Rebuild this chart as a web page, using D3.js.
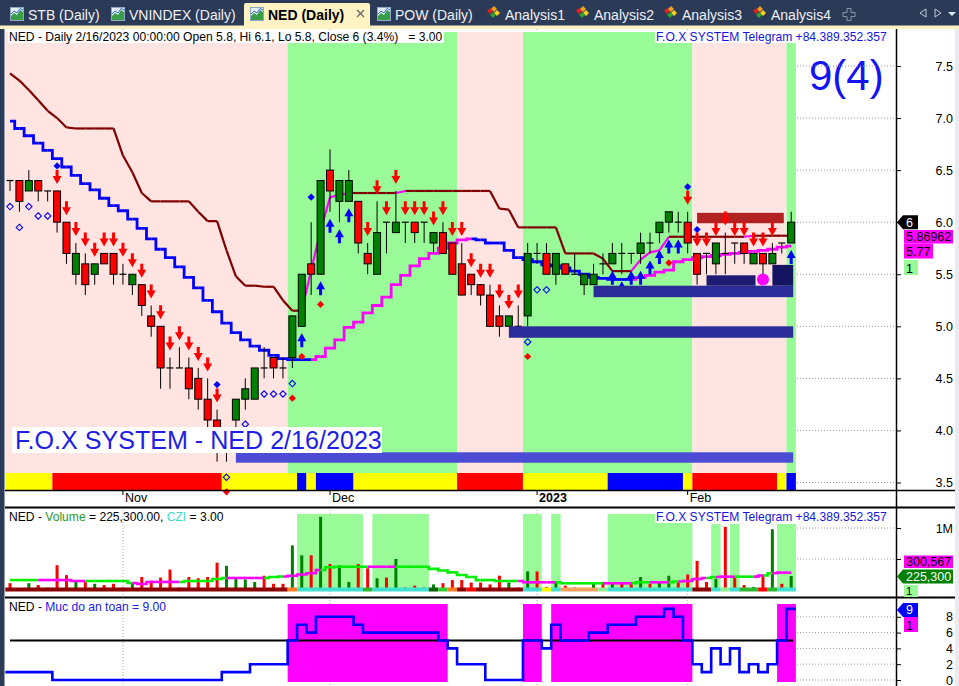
<!DOCTYPE html>
<html>
<head>
<meta charset="utf-8">
<script src="https://cdn.jsdelivr.net/npm/d3@7/dist/d3.min.js"></script>
<style>
  body { margin: 0; background: #fff; }
  svg { display: block; font-family: "Liberation Sans", Arial, sans-serif; }
  text { white-space: pre; }
</style>
</head>
<body>
<svg id="chart"></svg>
<script>
// ---------- data ----------
const tradeDates = [
  "2022-10-14","2022-10-17","2022-10-18","2022-10-19","2022-10-20","2022-10-21","2022-10-24","2022-10-25","2022-10-26","2022-10-27","2022-10-28","2022-10-31",
  "2022-11-01","2022-11-02","2022-11-03","2022-11-04","2022-11-07","2022-11-08","2022-11-09","2022-11-10","2022-11-11","2022-11-14","2022-11-15",
  "2022-11-16","2022-11-17","2022-11-18","2022-11-21","2022-11-22","2022-11-23","2022-11-24","2022-11-25","2022-11-28","2022-11-29","2022-11-30",
  "2022-12-01","2022-12-02","2022-12-05","2022-12-06","2022-12-07","2022-12-08","2022-12-09","2022-12-12","2022-12-13","2022-12-14","2022-12-15",
  "2022-12-16","2022-12-19","2022-12-20","2022-12-21","2022-12-22","2022-12-23","2022-12-26","2022-12-27","2022-12-28","2022-12-29","2022-12-30",
  "2023-01-03","2023-01-04","2023-01-05","2023-01-06","2023-01-09","2023-01-10","2023-01-11","2023-01-12","2023-01-13","2023-01-16","2023-01-17",
  "2023-01-18","2023-01-19","2023-01-27","2023-01-30","2023-01-31",
  "2023-02-01","2023-02-02","2023-02-03","2023-02-06","2023-02-07","2023-02-08","2023-02-09","2023-02-10","2023-02-13","2023-02-14","2023-02-15","2023-02-16"
];
const monthTicks = ["2022-11-01", "2022-12-01", "2023-01-03", "2023-02-01"];
const monthLabels = ["Nov", "Dec", "2023", "Feb"];

const open = [6.4,6.4,6.3,6.4,6.3,6.3,6.0,5.5,5.6,5.5, 5.7,5.7,5.5,5.4,5.4,5.1,5.0,4.6,4.6,4.6,
  4.5,4.3,4.1,3.9,4.1,4.3,4.3,4.6,4.7,4.6, 4.7,5.0,5.6,5.5,6.5,6.2,6.2,6.2,5.7,5.5,
  6.0,5.9,6.0,6.0,6.0,5.8,5.9,5.8,5.6,5.5, 5.4,5.3,5.1,5.0,5.0,5.1,5.7,5.7,5.5,5.6,
  5.5,5.4,5.4,5.6,5.6,5.7,5.7,5.7,5.8,5.9, 6.0,6.0,6.0,5.7,5.7,5.6,5.7,5.8,5.8,5.6, 5.7,5.6,5.8,5.8];
const high = [6.4,6.4,6.5,6.4,6.3,6.3,6.0,5.8,5.7,5.6, 5.7,5.7,5.6,5.5,5.4,5.2,5.0,4.7,4.8,4.7,
  4.6,4.5,4.2,4.0,4.3,4.5,4.6,4.8,4.7,4.7, 5.1,5.5,6.0,6.4,6.7,6.4,6.5,6.2,5.8,6.2,
  6.0,6.3,6.0,6.0,6.0,5.9,6.0,5.8,5.8,5.5, 5.4,5.4,5.2,5.1,5.2,5.8,5.8,5.8,5.7,5.6,
  5.7,5.5,5.6,5.7,5.8,5.8,5.7,5.9,5.9,6.0, 6.1,6.1,6.1,5.7,5.7,5.8,5.9,5.8,5.8,5.7, 5.7,5.8,5.8,6.1];
const low = [6.3,6.1,6.3,6.2,6.2,5.9,5.6,5.4,5.3,5.4, 5.6,5.4,5.4,5.3,5.1,4.9,4.4,4.4,4.6,4.3,
  4.2,4.0,3.7,3.7,4.0,4.2,4.3,4.5,4.5,4.5, 4.6,5.0,5.3,5.5,6.1,6.0,6.2,5.7,5.5,5.5,
  5.7,5.9,5.8,5.8,5.8,5.7,5.7,5.5,5.3,5.3, 5.2,5.0,4.9,5.0,5.0,5.0,5.6,5.5,5.4,5.5,
  5.5,5.3,5.4,5.5,5.6,5.5,5.6,5.6,5.7,5.8, 5.9,5.9,5.7,5.4,5.5,5.5,5.5,5.6,5.6,5.6, 5.4,5.6,5.7,5.8];
const close = [6.4,6.2,6.4,6.3,6.3,6.0,5.7,5.7,5.4,5.6, 5.6,5.5,5.5,5.5,5.2,5.0,4.6,4.6,4.6,4.4,
  4.3,4.1,3.9,4.0,4.3,4.4,4.6,4.6,4.6,4.6, 5.1,5.5,5.5,6.4,6.3,6.4,6.4,5.8,5.6,5.9,
  6.0,6.0,6.0,5.9,6.0,5.9,5.7,5.5,5.3,5.4, 5.3,5.0,5.0,5.1,5.0,5.7,5.7,5.5,5.7,5.5,
  5.5,5.5,5.5,5.6,5.7,5.7,5.7,5.8,5.8,6.0, 6.1,6.0,5.8,5.5,5.7,5.8,5.7,5.8,5.7,5.7, 5.6,5.7,5.8,6.0];

// volume in thousands of shares, and its average
const volume = [110,20,110,80,40,400,240,130,130,100, 80,100,40,110,210,150,200,330,40,210,
  190,210,440,390,190,170,130,230,100,100, 720,560,560,1180,420,400,130,420,350,190,
  200,500,40,70,40,90,110,160,160,120, 120,90,230,120,40,300,300,50,120,70,
  40,30,100,130,100,120,130,210,100,130, 230,120,250,470,130,180,1020,210,80,50, 250,980,100,225.3];
const volumeAvg = [160,160,160,160,160,160,160,145,145,145, 145,145,145,113,97,130,130,130,130,145,
  145,145,177,194,194,194,194,194,210,218, 230,250,270,323,366,375,375,375,375,375,
  375,375,375,375,375,340,315,285,242,210, 160,161,145,145,145,124,124,124,124,108,
  108,108,108,108,108,108,108,124,124,124, 124,137,145,177,194,210,215,215,215,215, 234,270,280,280];
const avgHighlight = [[4,8],[14,18],[24,27],[30,33],[39,41],[55,58],[64,66],[69,70],[72,74],[76,77],[80,80],[82,83]];

// trailing stop lines
const upperStop = [7.43,7.36,7.27,7.17,7.07,7.00,6.91,6.90,6.90,6.90, 6.90,6.90,6.64,6.48,6.28,6.20,6.20,6.20,6.20,6.20,
  6.10,6.01,6.01,5.73,5.48,5.39,5.39,5.38,5.38,5.25, 5.15,5.15,5.54,5.92,6.24,6.26,6.28,6.28,6.28,6.28,
  6.28,6.28,6.30,6.30,6.30,6.30,6.30,6.30,6.30,6.30, 6.30,6.30,6.13,6.12,5.95,5.95,5.95,5.95,5.95,5.70,
  5.70,5.70,5.70,5.65,5.53,5.53,5.53,5.64,5.71,5.73, 5.86,5.86,5.86,5.86,5.86,5.86,5.86,5.86,5.86,5.87, 5.87,5.87,5.87,5.87];
const lowerStop = [6.97,6.90,6.83,6.76,6.69,6.61,6.53,6.45,6.37,6.31, 6.23,6.16,6.11,6.03,5.94,5.84,5.74,5.66,5.57,5.47,
  5.37,5.25,5.14,5.03,4.94,4.87,4.81,4.77,4.72,4.69, 4.68,4.68,4.68,4.71,4.79,4.87,4.99,5.04,5.13,5.20,
  5.28,5.40,5.49,5.58,5.65,5.70,5.75,5.80,5.83,5.84, 5.83,5.80,5.80,5.73,5.66,5.64,5.62,5.59,5.58,5.56,
  5.53,5.50,5.47,5.46,5.45,5.45,5.45,5.47,5.49,5.52, 5.54,5.62,5.64,5.66,5.67,5.68,5.69,5.70,5.71,5.72, 5.73,5.74,5.76,5.77];

// "Muc do an toan" (safety level)
const safety = [1,1,1,1,1,0,0,0,0,0, 0,0,0,0,0,0,0,0,0,0, 0,0,0,1,1,1,2,2,2,2,
  5,7,6,8,8,8,8,7,6,6, 6,6,6,6,6,6,5,4,2,2, 2,0,0,0,0,5,5,4,7,5,
  5,5,6,6,7,7,7,8,8,8, 9,8,5,2,1,4,2,4,1,2, 1,2,5,9];

// state runs [firstBar, lastBar, state]
const trendRuns = [[0,29,"bear"],[30,47,"bull"],[48,54,"bear"],[55,72,"bull"],[73,82,"bear"],[83,83,"bull"]];
const signalRuns = [[0,4,"wait"],[5,22,"sell"],[23,30,"wait"],[31,31,"buy"],[32,32,"wait"],[33,36,"buy"],[37,47,"wait"],
  [48,54,"sell"],[55,63,"wait"],[64,71,"buy"],[72,72,"wait"],[73,81,"sell"],[82,82,"wait"],[83,83,"buy"]];
const flowRuns = [[0,29,"dr"],[30,30,"or"],[31,37,"tq"],[38,38,"gr"],[39,44,"tq"],[45,45,"dg"],[46,46,"lg"],[47,47,"or"],
  [48,48,"dr"],[49,49,"rd"],[50,54,"dr"],[55,56,"tq"],[57,57,"yl"],[58,58,"tq"],[59,62,"sd"],[63,63,"pg"],[64,72,"tq"],
  [73,74,"dr"],[75,75,"tq"],[76,76,"pg"],[77,77,"tq"],[78,79,"gr"],[80,80,"rd"],[81,81,"gr"],[82,83,"tq"]];
const volFlagTall = [[31,37],[39,44],[55,56],[58,58],[64,72]];
const volFlagShort = [[75,75],[77,77],[82,83]];
const safeRuns = [[30,46],[55,56],[58,72],[82,83]];

// signals
const sellBars = [5,6,7,8,9,10,11,12,13,14,15,16,17,18,19,20,21,22,
  38,39,40,41,42,43,44,45,46,47,48,49,50,51,52,53,54, 72,73,74,75,76,77,78,79,80,81];
const buyBars = [31,33,34,35,36,64,65,66,67,68,69,70,71,83];
const blueDots = [[5,6.54],[22,4.44],[32,6.24],[72,6.34],[73,5.93]];
const redDots = [[23,3.41],[30,4.31],[31,4.71],[33,5.21],[55,4.71],[70,5.61]];
const hollowDots = [[0,6.15],[1,5.95],[2,6.15],[3,6.06],[4,6.06],[23,3.55],[25,4.06],[27,4.35],[28,4.35],
  [29,4.35],[30,4.45],[55,4.85],[56,5.35],[57,5.35]];
const zones = [
  {kind: "base", from: 24, to: 83, lo: 3.69, hi: 3.79},
  {kind: "sup", from: 53, to: 83, lo: 4.89, hi: 5.00},
  {kind: "sup", from: 62, to: 83, lo: 5.28, hi: 5.39},
  {kind: "box", from: 74, to: 79, lo: 5.39, hi: 5.49},
  {kind: "box2", from: 81, to: 83, lo: 5.39, hi: 5.59},
  {kind: "res", from: 73, to: 82, lo: 5.99, hi: 6.09}
];
const pivotBar = 80, pivotPrice = 5.45;

const priceTicks = [3.5, 4, 4.5, 5, 5.5, 6, 6.5, 7, 7.5];
const volTicks = [500, 1000];
const safeTicks = [0, 2, 4, 6, 8];

const tabLabels = ["STB (Daily)", "VNINDEX (Daily)", "NED (Daily)", "POW (Daily)", "Analysis1", "Analysis2", "Analysis3", "Analysis4"];
const tabKinds = ["chart", "chart", "chart", "chart", "analysis", "analysis", "analysis", "analysis"];
const tabX = [10, 111, 250, 377, 487, 576, 664, 753];
const activeTab = 2;

// ---------- colours ----------
const trendColor = {bear: "#ffe4e1", bull: "#98fb98"};
const signalColor = {wait: "#ffff00", sell: "#ff0000", buy: "#0000ff"};
const flowColor = {dr: "#8b0000", or: "#ff7f27", tq: "#40e0d0", gr: "#2eb82e", dg: "#006400", lg: "#32cd32",
  rd: "#ff0000", yl: "#ffff00", sd: "#f4a460", pg: "#90ee90"};
const zoneColor = {base: "#4b4bd6", sup: "#2b2b99", box: "#1c1c72", box2: "#141463", res: "#b22222"};

// ---------- scales ----------
const n = tradeDates.length;
const x = d3.scaleBand().domain(tradeDates).range([5.3, 795.9]).padding(0);
const bw = x.bandwidth();
const xl = i => x(tradeDates[i]);
const xc = i => x(tradeDates[i]) + bw / 2;
const y = d3.scaleLinear().domain([3.5, 7.5]).range([482.5, 66]);
const yVol = d3.scaleLinear().domain([0, 1000]).range([590, 528]);
const ySafe = d3.scaleLinear().domain([0, 8]).range([680, 616.8]);

const svg = d3.select("#chart").attr("width", 959).attr("height", 686);
svg.append("rect").attr("width", 959).attr("height", 686).attr("fill", "#fff");

// ---------- tab strip ----------
const tabBar = svg.append("g");
tabBar.append("rect").attr("width", 959).attr("height", 29).attr("fill", "#2b3a57");
tabBar.append("rect").attr("y", 25.5).attr("width", 959).attr("height", 3.5).attr("fill", "#fff3c4");
tabBar.append("path").attr("d", "M244,29 V5 Q244,3 246,3 H368 Q370,3 370,5 V29 Z").attr("fill", "#fff3c4");
svg.append("rect").attr("y", 29).attr("width", 4.5).attr("height", 657).attr("fill", "#2b3a57");
svg.append("rect").attr("x", 955).attr("y", 29).attr("width", 4).attr("height", 657).attr("fill", "#e9ebef");

tabLabels.forEach((label, i) => {
  const x0 = tabX[i];
  const g = tabBar.append("g");
  if (tabKinds[i] === "chart") {
    g.append("rect").attr("x", x0 + 0.5).attr("y", 7.5).attr("width", 13).attr("height", 13)
      .attr("fill", "#e4eefa").attr("stroke", "#8fa8c8");
    g.append("path").attr("d", `M${x0 + 1},20 V16 L${x0 + 4},13 L${x0 + 7},15 L${x0 + 10},10 L${x0 + 13},12 V20 Z`)
      .attr("fill", "#3a9e48");
    g.append("path").attr("d", `M${x0 + 1},14 L${x0 + 4},11 L${x0 + 7},13 L${x0 + 10},8.5 L${x0 + 13},10`)
      .attr("fill", "none").attr("stroke", "#2f6fd0").attr("stroke-width", 1);
  } else {
    [["#e02020", 3, 11], ["#f0a020", 7, 9], ["#f5d020", 10, 13], ["#30a030", 6, 15]].forEach(([c, dx, dy]) => {
      g.append("path").attr("d", `M${x0 + dx},${dy - 3} l3,3 l-3,3 l-3,-3 Z`).attr("fill", c);
    });
  }
  g.append("text").attr("x", x0 + 18).attr("y", 19.5).attr("font-size", 14)
    .attr("font-weight", i === activeTab ? "bold" : "normal")
    .attr("fill", i === activeTab ? "#000" : "#eef1f6").text(label);
});
tabBar.append("path").attr("d", "M357,10 L364,17 M364,10 L357,17").attr("stroke", "#666").attr("stroke-width", 1.3);
tabBar.append("path").attr("d", "M847,8.5 h4 v4 h4 v4 h-4 v4 h-4 v-4 h-4 v-4 h4 Z").attr("fill", "none")
  .attr("stroke", "#8b95a8").attr("stroke-width", 1);
tabBar.append("path").attr("d", "M926,9 L920,13 L926,17 Z").attr("fill", "none").attr("stroke", "#c8cdd8");
tabBar.append("path").attr("d", "M935,9 L941,13 L935,17 Z").attr("fill", "none").attr("stroke", "#c8cdd8");
tabBar.append("path").attr("d", "M948,12 L956,12 L952,16 Z").attr("fill", "#e2e6ee");

// ---------- month grid ----------
const grid = svg.append("g");
[[29, 490], [507, 597], [597, 686]].forEach(([a, b]) => {
  monthTicks.forEach(d => {
    grid.append("line").attr("x1", x(d) + bw / 2).attr("x2", x(d) + bw / 2).attr("y1", a).attr("y2", b)
      .attr("stroke", "#aaa").attr("stroke-dasharray", "1,2");
  });
});

// ---------- main panel ----------
const gMain = svg.append("g");
const runRect = (g, runs, y0, h, colorOf) => {
  g.selectAll(null).data(runs).join("rect")
    .attr("x", d => xl(d[0])).attr("width", d => xl(d[1]) + bw - xl(d[0]))
    .attr("y", y0).attr("height", h).attr("fill", colorOf);
};
runRect(gMain, trendRuns, 32, 441, d => trendColor[d[2]]);
runRect(gMain, signalRuns, 473, 17, d => signalColor[d[2]]);

// right-side dotted grid
const hGrid = (vals, sc) => vals.forEach(v => {
  svg.append("line").attr("x1", 797).attr("x2", 896).attr("y1", sc(v)).attr("y2", sc(v))
    .attr("stroke", "#999").attr("stroke-dasharray", "1,2");
});
hGrid(priceTicks, y);

const zoneRect = (g, list) => g.selectAll(null).data(list).join("rect")
  .attr("x", d => xc(d.from)).attr("width", d => xc(d.to) + 2 - xc(d.from))
  .attr("y", d => y(d.hi)).attr("height", d => y(d.lo) - y(d.hi)).attr("fill", d => zoneColor[d.kind]);
zoneRect(gMain, zones.filter(z => z.kind === "res"));

// stop lines, coloured by direction
function stopLine(g, vals, sc, base, rise, curve, width) {
  const seg = d3.line().x(j => xc(j)).y(j => sc(vals[j])).curve(curve);
  for (let i = 1; i < vals.length; i++) {
    g.append("path").attr("d", seg([i - 1, i])).attr("fill", "none")
      .attr("stroke", vals[i] > vals[i - 1] ? rise : base).attr("stroke-width", width);
  }
}
stopLine(gMain, upperStop, y, "#800000", "#ff00ff", d3.curveLinear, 2.2);
stopLine(gMain, lowerStop, y, "#0000ff", "#ff00ff", d3.curveStep, 2.8);

// candles
const cg = gMain.selectAll("g.candle").data(d3.range(n)).join("g").attr("class", "candle");
cg.append("line").attr("x1", xc).attr("x2", xc).attr("y1", i => y(high[i])).attr("y2", i => y(low[i]))
  .attr("stroke", "#000").attr("stroke-width", 1);
cg.filter(i => open[i] !== close[i]).append("rect")
  .attr("x", i => xc(i) - 3.5).attr("width", 7)
  .attr("y", i => y(Math.max(open[i], close[i])))
  .attr("height", i => Math.abs(y(open[i]) - y(close[i])))
  .attr("fill", i => close[i] > open[i] ? "#008000" : "#ff0000").attr("stroke", "#000").attr("stroke-width", 1);
cg.filter(i => open[i] === close[i]).append("line")
  .attr("x1", i => xc(i) - 3.5).attr("x2", i => xc(i) + 3.5)
  .attr("y1", i => y(open[i])).attr("y2", i => y(open[i])).attr("stroke", "#000").attr("stroke-width", 1.2);

// arrows
const downArrow = (cx, t) => `M${cx - 1.5},${t - 14} h3 v6 h3 L${cx},${t} L${cx - 4.5},${t - 8} h3 Z`;
const upArrow = (cx, t) => `M${cx - 1.5},${t + 14} h3 v-6 h3 L${cx},${t} L${cx - 4.5},${t + 8} h3 Z`;
gMain.selectAll(null).data(sellBars).join("path").attr("d", i => downArrow(xc(i), y(high[i]) - 7)).attr("fill", "#ff0000");
gMain.selectAll(null).data(buyBars).join("path").attr("d", i => upArrow(xc(i), y(low[i]) + 7)).attr("fill", "#0000ff");

const diamond = (cx, cy, r) => `M${cx},${cy - r} L${cx + r},${cy} L${cx},${cy + r} L${cx - r},${cy} Z`;
gMain.selectAll(null).data(blueDots).join("path").attr("d", d => diamond(xc(d[0]), y(d[1]), 3.6)).attr("fill", "#0000ff");
gMain.selectAll(null).data(redDots).join("path").attr("d", d => diamond(xc(d[0]), y(d[1]), 3.6)).attr("fill", "#ff0000");
gMain.selectAll(null).data(hollowDots).join("path").attr("d", d => diamond(xc(d[0]), y(d[1]), 3.2))
  .attr("fill", "none").attr("stroke", "#0000ff").attr("stroke-width", 1.1);

zoneRect(gMain, zones.filter(z => z.kind !== "res"));
gMain.append("circle").attr("cx", xc(pivotBar)).attr("cy", y(pivotPrice)).attr("r", 6).attr("fill", "#ff00ff");

// texts on main panel
gMain.append("rect").attr("x", 12).attr("y", 427).attr("width", 370).attr("height", 26).attr("fill", "#fff");
gMain.append("text").attr("x", 15).attr("y", 449).attr("font-size", 25.1).attr("fill", "#1e1ee6")
  .text("F.O.X SYSTEM - NED 2/16/2023");
gMain.append("text").attr("x", 809).attr("y", 90).attr("font-size", 42).attr("fill", "#1414f0").text("9(4)");

const header = (yb, parts, bg) => {
  if (bg) svg.append("rect").attr("x", 8).attr("y", yb - 10.5).attr("width", bg).attr("height", 13).attr("fill", "#fff");
  const t = svg.append("text").attr("x", 9).attr("y", yb).attr("font-size", 12.1);
  parts.forEach(([s, c]) => t.append("tspan").attr("fill", c).text(s));
};
header(40.5, [["NED - Daily 2/16/2023 00:00:00 Open 5.8, Hi 6.1, Lo 5.8, Close 6 (3.4%)   = 3.00", "#000"]], 436);
const telegram = yb => {
  svg.append("rect").attr("x", 655).attr("y", yb - 10.5).attr("width", 232).attr("height", 13).attr("fill", "#fff");
  svg.append("text").attr("x", 656).attr("y", yb).attr("font-size", 12.1).attr("fill", "#1414e0")
    .text("F.O.X SYSTEM Telegram +84.389.352.357");
};
telegram(40.5);

// date axis
const xAxis = d3.axisBottom(x).tickValues(monthTicks).tickFormat((d, i) => monthLabels[i]).tickSize(5);
const gx = svg.append("g").attr("transform", "translate(0,490)").call(xAxis)
  .attr("font-size", 12.5).attr("font-family", null);
gx.select(".domain").remove();
gx.selectAll("line").attr("stroke", "#000");
gx.selectAll("text").attr("x", 2).attr("y", 12).attr("dy", 0).attr("text-anchor", "start").attr("fill", "#000")
  .attr("font-weight", (d, i) => monthLabels[i] === "2023" ? "bold" : "normal");
svg.append("line").attr("x1", 5).attr("x2", 955).attr("y1", 490.5).attr("y2", 490.5).attr("stroke", "#000").attr("stroke-width", 1.5);
svg.append("line").attr("x1", 5).attr("x2", 955).attr("y1", 507.5).attr("y2", 507.5).attr("stroke", "#000").attr("stroke-width", 2);
svg.append("line").attr("x1", 5).attr("x2", 955).attr("y1", 597.5).attr("y2", 597.5).attr("stroke", "#000").attr("stroke-width", 2);

// ---------- volume panel ----------
const gVol = svg.append("g");
gVol.selectAll(null).data(volFlagTall).join("rect").attr("x", d => xl(d[0])).attr("width", d => xl(d[1]) + bw - xl(d[0]))
  .attr("y", 514).attr("height", 77).attr("fill", "#98fb98");
gVol.selectAll(null).data(volFlagShort).join("rect").attr("x", d => xl(d[0])).attr("width", d => xl(d[1]) + bw - xl(d[0]))
  .attr("y", 524).attr("height", 67).attr("fill", "#98fb98");
hGrid(volTicks, yVol);
gVol.selectAll(null).data(d3.range(n)).join("rect")
  .attr("x", i => xc(i) - 1.5).attr("width", 3)
  .attr("y", i => yVol(volume[i])).attr("height", i => yVol(0) - yVol(volume[i]))
  .attr("fill", i => close[i] > open[i] ? "#008000" : "#ff0000");
{
  const seg = d3.line().x(j => xc(j)).y(j => yVol(volumeAvg[j])).curve(d3.curveStep);
  const hot = i => avgHighlight.some(([a, b]) => i >= a && i <= b);
  for (let i = 1; i < n; i++) {
    gVol.append("path").attr("d", seg([i - 1, i])).attr("fill", "none").attr("stroke-width", 2.6)
      .attr("stroke", hot(i) ? "#ff00ff" : "#00ee00");
  }
}
runRect(gVol, flowRuns, 587.5, 4, d => flowColor[d[2]]);
header(520.5, [["NED - ", "#000"], ["Volume", "#2a9a2a"], [" = 225,300.00, ", "#000"], ["CZI", "#40d8c8"], [" = 3.00", "#000"]]);
telegram(520.5);

// ---------- safety panel ----------
const gSafe = svg.append("g");
gSafe.selectAll(null).data(safeRuns).join("rect").attr("x", d => xl(d[0])).attr("width", d => xl(d[1]) + bw - xl(d[0]))
  .attr("y", 604).attr("height", 78).attr("fill", "#ff00ff");
hGrid(safeTicks, ySafe);
gSafe.append("line").attr("x1", xc(0)).attr("x2", xc(n - 1) + 2).attr("y1", ySafe(5)).attr("y2", ySafe(5))
  .attr("stroke", "#000").attr("stroke-width", 2);
gSafe.append("path")
  .attr("d", d3.line().curve(d3.curveStepAfter).x(d => d[0]).y(d => ySafe(d[1]))(
    safety.map((v, i) => [xl(i), v]).concat([[xl(n - 1) + bw, safety[n - 1]]])))
  .attr("fill", "none").attr("stroke", "#0000ff").attr("stroke-width", 2.6);
header(610.5, [["NED - ", "#000"], ["Muc do an toan = 9.00", "#2020e8"]]);

// ---------- right axes ----------
svg.append("line").attr("x1", 896.5).attr("x2", 896.5).attr("y1", 29).attr("y2", 686).attr("stroke", "#000").attr("stroke-width", 1.5);
const rightAxis = (sc, vals, fmt) => {
  const g = svg.append("g").attr("transform", "translate(896,0)")
    .call(d3.axisRight(sc).tickValues(vals).tickFormat(fmt).tickSize(5).tickPadding(0))
    .attr("font-size", 12.5).attr("font-family", null);
  g.select(".domain").remove();
  g.selectAll("line").attr("stroke", "#000");
  g.selectAll("text").attr("x", 57).attr("text-anchor", "end").attr("fill", "#000");
};
rightAxis(y, priceTicks, d3.format(".1f"));
rightAxis(yVol, volTicks, d => d === 1000 ? "1M" : "");
rightAxis(ySafe, safeTicks, d3.format("d"));

const pointerTag = (cy, w, fill, txt, tc) => {
  svg.append("path").attr("d", `M897,${cy} L903,${cy - 7} H${903 + w} V${cy + 7} H903 Z`).attr("fill", fill);
  svg.append("text").attr("x", 906).attr("y", cy + 4.5).attr("font-size", 12.5).attr("fill", tc).text(txt);
};
const boxTag = (top, w, h, fill, txt, fs) => {
  svg.append("rect").attr("x", 904).attr("y", top).attr("width", w).attr("height", h).attr("fill", fill);
  svg.append("text").attr("x", 906).attr("y", top + h - 2.5).attr("font-size", fs || 12.5).attr("fill", "#000").text(txt);
};
pointerTag(y(close[n - 1]), 15, "#000", "6", "#fff");
boxTag(230, 49, 13.5, "#ff00ff", "5.86962");
boxTag(243.5, 29, 15, "#ff00ff", "5.77");
boxTag(260, 14, 15, "#98fb98", "1");
boxTag(555.5, 49, 12.5, "#ff00ff", "300,567");
pointerTag(576.5, 50, "#008000", "225,300", "#fff");
boxTag(585, 14, 12, "#98fb98", "1", 11);
pointerTag(ySafe(safety[n - 1]) + 1, 15, "#0000ff", "9", "#fff");
boxTag(617, 14, 15, "#ff00ff", "1");
</script>
</body>
</html>
